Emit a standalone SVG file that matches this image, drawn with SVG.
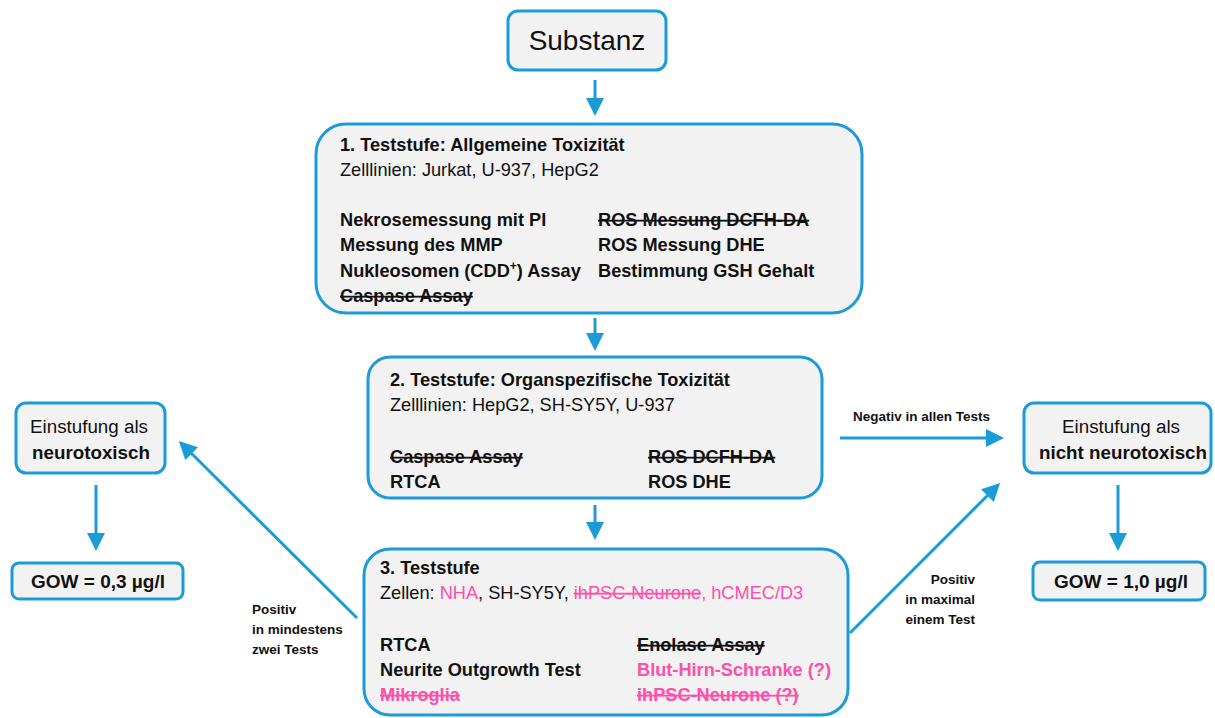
<svg xmlns="http://www.w3.org/2000/svg" width="1215" height="718" viewBox="0 0 1215 718">
<style>
.box{fill:#f2f2f2;stroke:#1b9bd7;stroke-width:3}
.t{font-family:"Liberation Sans",Arial,sans-serif;font-size:18.2px;fill:#111}
.m{font-size:18.8px}
.b{font-weight:bold}
.s{text-decoration:line-through}
.p{fill:#ff4fa8}
.lbl{font-family:"Liberation Sans",Arial,sans-serif;font-size:13.5px;font-weight:bold;fill:#111}
.c{stroke:#1b9bd7;stroke-width:3;fill:none;marker-end:url(#ah)}
</style>
<defs>
<marker id="ah" markerWidth="6" markerHeight="6" refX="5" refY="3" orient="auto" markerUnits="strokeWidth">
<path d="M0,0 L6,3 L0,6 Z" fill="#1b9bd7"/>
</marker>
</defs>
<rect width="1215" height="718" fill="#fff"/>
<g id="connectors">
<line class="c" x1="595" y1="80" x2="595" y2="113"/>
<line class="c" x1="595" y1="318" x2="595" y2="348"/>
<line class="c" x1="595" y1="505" x2="595" y2="537"/>
<line class="c" x1="96" y1="485" x2="96" y2="548"/>
<line class="c" x1="1118" y1="485" x2="1118" y2="548"/>
<line class="c" x1="840" y1="438" x2="1001" y2="438"/>
<line class="c" x1="357" y1="618" x2="181" y2="443"/>
<line class="c" x1="850" y1="633" x2="998" y2="485"/>
<text class="lbl" x="853" y="421">Negativ in allen Tests</text>
<text class="lbl" x="252" y="614">Positiv</text>
<text class="lbl" x="252" y="634">in mindestens</text>
<text class="lbl" x="252" y="654">zwei Tests</text>
<text class="lbl" x="975" y="584" text-anchor="end">Positiv</text>
<text class="lbl" x="975" y="604" text-anchor="end">in maximal</text>
<text class="lbl" x="975" y="624" text-anchor="end">einem Test</text>
</g>
<g id="substanz">
<rect class="box" x="508" y="11" width="158" height="59" rx="10"/>
<text class="t" x="587" y="50" text-anchor="middle" style="font-size:28px">Substanz</text>
</g>
<g id="stufe1">
<rect class="box" x="316" y="124" width="546" height="189" rx="30"/>
<text class="t b" x="340" y="151">1. Teststufe: Allgemeine Toxizität</text>
<text class="t" x="340" y="176">Zelllinien: Jurkat, U-937, HepG2</text>
<text class="t b" x="340" y="226">Nekrosemessung mit PI</text>
<text class="t b" x="340" y="251">Messung des MMP</text>
<text class="t b" x="340" y="277">Nukleosomen (CDD<tspan dy="-7" style="font-size:12px">+</tspan><tspan dy="7">) Assay</tspan></text>
<text class="t b s" x="340" y="302">Caspase Assay</text>
<text class="t b s" x="598" y="226">ROS Messung DCFH-DA</text>
<text class="t b" x="598" y="251">ROS Messung DHE</text>
<text class="t b" x="598" y="277">Bestimmung GSH Gehalt</text>
</g>
<g id="stufe2">
<rect class="box" x="368" y="357" width="454" height="141" rx="22"/>
<text class="t b" x="390" y="386">2. Teststufe: Organspezifische Toxizität</text>
<text class="t" x="390" y="411">Zelllinien: HepG2, SH-SY5Y, U-937</text>
<text class="t b s" x="390" y="463">Caspase Assay</text>
<text class="t b" x="390" y="488">RTCA</text>
<text class="t b s" x="648" y="463">ROS DCFH-DA</text>
<text class="t b" x="648" y="488">ROS DHE</text>
</g>
<g id="stufe3">
<rect class="box" x="364" y="549" width="484" height="166" rx="26"/>
<text class="t b" x="380" y="574">3. Teststufe</text>
<text class="t" x="380" y="599">Zellen: <tspan class="p">NHA</tspan>, SH-SY5Y, <tspan class="p s">ihPSC-Neurone</tspan><tspan class="p">, hCMEC/D3</tspan></text>
<text class="t b" x="380" y="651">RTCA</text>
<text class="t b" x="380" y="676">Neurite Outgrowth Test</text>
<text class="t b s p" x="380" y="701">Mikroglia</text>
<text class="t b s" x="637" y="651">Enolase Assay</text>
<text class="t b p" x="637" y="676">Blut-Hirn-Schranke (?)</text>
<text class="t b s p" x="637" y="701">ihPSC-Neurone (?)</text>
</g>
<g id="neurotox">
<rect class="box" x="16" y="403" width="149" height="70" rx="10"/>
<text class="t m" x="89" y="433" text-anchor="middle">Einstufung als</text>
<text class="t m b" x="91" y="459" text-anchor="middle">neurotoxisch</text>
</g>
<g id="gow03">
<rect class="box" x="12" y="563" width="171" height="36" rx="7"/>
<text class="t b" x="98" y="588" text-anchor="middle" style="font-size:19px">GOW = 0,3 µg/l</text>
</g>
<g id="nichtneurotox">
<rect class="box" x="1024" y="403" width="187" height="70" rx="10"/>
<text class="t m" x="1121" y="433" text-anchor="middle">Einstufung als</text>
<text class="t m b" x="1123" y="459" text-anchor="middle">nicht neurotoxisch</text>
</g>
<g id="gow10">
<rect class="box" x="1033" y="562" width="172" height="38" rx="7"/>
<text class="t b" x="1121" y="588" text-anchor="middle" style="font-size:19px">GOW = 1,0 µg/l</text>
</g>
</svg>
